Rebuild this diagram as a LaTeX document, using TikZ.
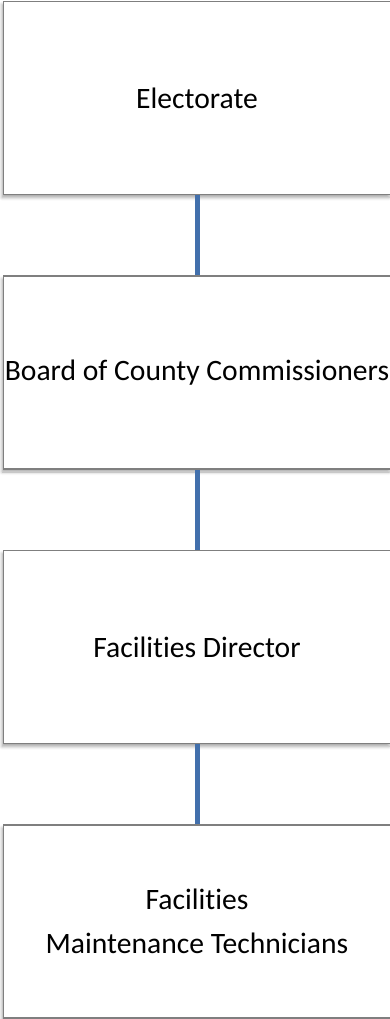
\documentclass[tikz,border=0pt]{standalone}
\usepackage{fontspec}
\setmainfont[Ligatures=NoCommon]{Carlito}
\usepackage{tikz}
\usetikzlibrary{positioning,shadows.blur}
\definecolor{boxLine}{HTML}{7F7F7F}
\definecolor{linkBlue}{HTML}{4270AC}

\tikzset{
  orgbox/.style={draw=boxLine,line width=1.1pt,fill=white,rectangle,
    minimum width=387pt,minimum height=193pt,inner sep=0pt,
    font=\fontsize{29.6}{44}\selectfont,align=center,
    blur shadow={shadow xshift=-1.5pt,shadow yshift=-3pt,
      shadow blur radius=3pt,shadow opacity=35}},
  link/.style={linkBlue,line width=5pt}
}

\begin{document}
\begin{tikzpicture}[x=1pt,y=-1pt]
\useasboundingbox (0,0) rectangle (390,1019);
% chain of command, top to bottom
\node[orgbox] (elect) at (197,98) {Electorate};
\node[orgbox] (board) at (197,372.5) {Board of County Commissioners};
\node[orgbox] (dir) at (197,647) {Facilities Director};
\node[orgbox] (tech) at (197,921.5) {Facilities\\Maintenance Technicians};
\draw[link] (elect.south) -- (board.north);
\draw[link] (board.south) -- (dir.north);
\draw[link] (dir.south) -- (tech.north);
\end{tikzpicture}
\end{document}
